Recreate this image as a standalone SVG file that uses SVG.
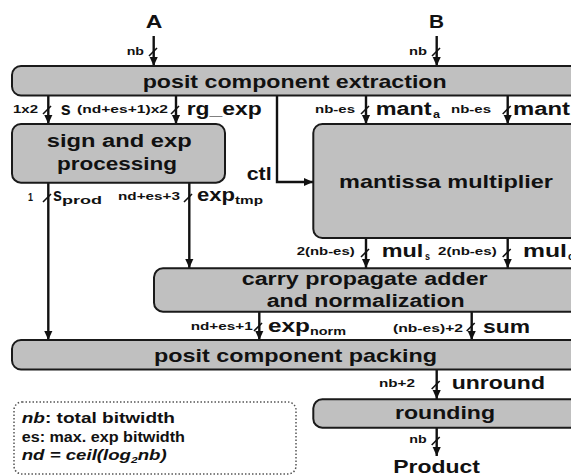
<svg xmlns="http://www.w3.org/2000/svg" width="571" height="476" viewBox="0 0 571 476">
<style>
text{font-family:"Liberation Sans",Arial,sans-serif;font-weight:bold;fill:#111}
.box{fill:#c0c0c0;stroke:#1a1a1a;stroke-width:2}
.big{font-size:18px}
.hd{font-size:19px}
.sm{font-size:10px}
.sub{font-size:11px}
.lg{font-size:14px}
.w{stroke:#111;stroke-width:2.4;fill:none}
.sl{stroke:#111;stroke-width:1.6;fill:none}
</style>
<defs>
<marker id="ah" viewBox="0 0 10 10" refX="10" refY="5" markerWidth="9" markerHeight="10" markerUnits="userSpaceOnUse" orient="auto"><path d="M0,0.5 L10,5 L0,9.5 z" fill="#111"/></marker>
</defs>
<rect width="571" height="476" fill="#fff"/>

<g id="connectors">
<path class="w" d="M153.7,36 V66" marker-end="url(#ah)"/>
<path class="sl" d="M149,56 L157,48"/>
<path class="w" d="M436.7,36 V66" marker-end="url(#ah)"/>
<path class="sl" d="M432,56 L440,48"/>
<path class="w" d="M48.3,96 V124" marker-end="url(#ah)"/>
<path class="sl" d="M43,114 L51,106"/>
<path class="w" d="M176,96 V124" marker-end="url(#ah)"/>
<path class="sl" d="M171,114 L179,106"/>
<path class="w" d="M366,96 V124" marker-end="url(#ah)"/>
<path class="sl" d="M361,114 L369,106"/>
<path class="w" d="M507.7,96 V124" marker-end="url(#ah)"/>
<path class="sl" d="M502.7,114 L510.7,106"/>
<path class="w" d="M277,96 V182 H313" marker-end="url(#ah)"/>
<path class="w" d="M48.3,183 V340" marker-end="url(#ah)"/>
<path class="sl" d="M43,202 L51,194"/>
<path class="w" d="M189.3,183 V268" marker-end="url(#ah)"/>
<path class="sl" d="M184,202 L192,194"/>
<path class="w" d="M366,238 V268" marker-end="url(#ah)"/>
<path class="sl" d="M361,257 L369,249"/>
<path class="w" d="M507.7,238 V268" marker-end="url(#ah)"/>
<path class="sl" d="M502.7,257 L510.7,249"/>
<path class="w" d="M259.3,312 V340" marker-end="url(#ah)"/>
<path class="sl" d="M254,331 L262,323"/>
<path class="w" d="M471.7,312 V340" marker-end="url(#ah)"/>
<path class="sl" d="M466.7,331 L474.7,323"/>
<path class="w" d="M436.7,370 V399" marker-end="url(#ah)"/>
<path class="sl" d="M431.7,389 L439.7,381"/>
<path class="w" d="M436.7,428 V456" marker-end="url(#ah)"/>
<path class="sl" d="M431.7,445 L439.7,437"/>
</g>

<g id="io">
<text class="big" x="145.7" y="28.3" textLength="16.6" lengthAdjust="spacingAndGlyphs">A</text>
<text class="big" x="429" y="28.3" textLength="15" lengthAdjust="spacingAndGlyphs">B</text>
<text class="big" x="393.3" y="473.3" textLength="86.7" lengthAdjust="spacingAndGlyphs">Product</text>
</g>

<g id="labels">
<text class="sm" x="126.7" y="55" textLength="17.3" lengthAdjust="spacingAndGlyphs">nb</text>
<text class="sm" x="409" y="55" textLength="18" lengthAdjust="spacingAndGlyphs">nb</text>
<text class="sm" x="13" y="113" textLength="25" lengthAdjust="spacingAndGlyphs">1x2</text>
<text class="big" x="60.7" y="115" textLength="10" lengthAdjust="spacingAndGlyphs">s</text>
<text class="sm" x="77" y="113" textLength="91" lengthAdjust="spacingAndGlyphs">(nd+es+1)x2</text>
<text class="big" x="186.7" y="115" textLength="75" lengthAdjust="spacingAndGlyphs">rg_exp</text>
<text class="sm" x="315" y="113" textLength="40" lengthAdjust="spacingAndGlyphs">nb-es</text>
<text class="big" x="375.7" y="115" textLength="56" lengthAdjust="spacingAndGlyphs">mant</text>
<text class="sub" x="433" y="118" textLength="7" lengthAdjust="spacingAndGlyphs">a</text>
<text class="sm" x="451" y="113" textLength="40" lengthAdjust="spacingAndGlyphs">nb-es</text>
<text class="big" x="513" y="115" textLength="57" lengthAdjust="spacingAndGlyphs">mant</text>
<text class="big" x="246.7" y="180" textLength="25" lengthAdjust="spacingAndGlyphs">ctl</text>
<text class="sm" x="28" y="200.7" textLength="5" lengthAdjust="spacingAndGlyphs">1</text>
<text class="big" x="53" y="201" textLength="9" lengthAdjust="spacingAndGlyphs">s</text>
<text class="sub" x="62" y="204" textLength="40" lengthAdjust="spacingAndGlyphs">prod</text>
<text class="sm" x="118" y="200" textLength="62" lengthAdjust="spacingAndGlyphs">nd+es+3</text>
<text class="big" x="197" y="201" textLength="38" lengthAdjust="spacingAndGlyphs">exp</text>
<text class="sub" x="235" y="204" textLength="28" lengthAdjust="spacingAndGlyphs">tmp</text>
<text class="sm" x="296.7" y="255" textLength="58" lengthAdjust="spacingAndGlyphs">2(nb-es)</text>
<text class="big" x="381.7" y="257" textLength="41.6" lengthAdjust="spacingAndGlyphs">mul</text>
<text class="sub" x="425" y="260" textLength="5" lengthAdjust="spacingAndGlyphs">s</text>
<text class="sm" x="438" y="255" textLength="58.7" lengthAdjust="spacingAndGlyphs">2(nb-es)</text>
<text class="big" x="523" y="257" textLength="44" lengthAdjust="spacingAndGlyphs">mul</text>
<text class="sub" x="568" y="260" textLength="6" lengthAdjust="spacingAndGlyphs">c</text>
<text class="sm" x="190.7" y="330" textLength="62" lengthAdjust="spacingAndGlyphs">nd+es+1</text>
<text class="big" x="268" y="332" textLength="42" lengthAdjust="spacingAndGlyphs">exp</text>
<text class="sub" x="310" y="335" textLength="36" lengthAdjust="spacingAndGlyphs">norm</text>
<text class="sm" x="393" y="331.7" textLength="70" lengthAdjust="spacingAndGlyphs">(nb-es)+2</text>
<text class="big" x="483" y="333" textLength="47" lengthAdjust="spacingAndGlyphs">sum</text>
<text class="sm" x="379" y="386.7" textLength="36" lengthAdjust="spacingAndGlyphs">nb+2</text>
<text class="big" x="451.7" y="389" textLength="93.3" lengthAdjust="spacingAndGlyphs">unround</text>
<text class="sm" x="409.3" y="442.7" textLength="17.4" lengthAdjust="spacingAndGlyphs">nb</text>
</g>

<g id="extraction">
<rect class="box" x="12" y="66" width="580" height="29.5" rx="9"/>
<text class="hd" x="142.7" y="88.3" textLength="304" lengthAdjust="spacingAndGlyphs">posit component extraction</text>
</g>

<g id="signexp">
<rect class="box" x="12" y="124" width="213" height="58.7" rx="9"/>
<text class="big" x="46.7" y="146.7" textLength="145" lengthAdjust="spacingAndGlyphs">sign and exp</text>
<text class="big" x="57" y="170" textLength="120" lengthAdjust="spacingAndGlyphs">processing</text>
</g>

<g id="multiplier">
<rect class="box" x="313.3" y="124" width="280" height="114" rx="9"/>
<text class="hd" x="339" y="188" textLength="214" lengthAdjust="spacingAndGlyphs">mantissa multiplier</text>
</g>

<g id="cpa">
<rect class="box" x="154" y="268.3" width="440" height="43.4" rx="9"/>
<text class="big" x="241.7" y="285" textLength="246" lengthAdjust="spacingAndGlyphs">carry propagate adder</text>
<text class="big" x="266.7" y="306.7" textLength="198" lengthAdjust="spacingAndGlyphs">and normalization</text>
</g>

<g id="packing">
<rect class="box" x="12" y="340" width="580" height="29.5" rx="9"/>
<text class="hd" x="154" y="361.7" textLength="283" lengthAdjust="spacingAndGlyphs">posit component packing</text>
</g>

<g id="rounding">
<rect class="box" x="313.3" y="399.3" width="280" height="28.4" rx="9"/>
<text class="big" x="395" y="419.3" textLength="100" lengthAdjust="spacingAndGlyphs">rounding</text>
</g>

<g id="legend">
<rect x="14" y="402" width="282" height="72" rx="8" fill="none" stroke="#555" stroke-width="1.5" stroke-dasharray="1.5,2"/>
<text class="lg" x="21.7" y="423.3" textLength="153.3" lengthAdjust="spacingAndGlyphs"><tspan font-style="italic">nb</tspan>: total bitwidth</text>
<text class="lg" x="21.7" y="441.7" textLength="163.3" lengthAdjust="spacingAndGlyphs">es: max. exp bitwidth</text>
<text class="lg" x="21.7" y="460" textLength="145" lengthAdjust="spacingAndGlyphs" font-style="italic">nd = ceil(log<tspan font-size="9" dy="3">2</tspan><tspan dy="-3">nb)</tspan></text>
</g>
</svg>
